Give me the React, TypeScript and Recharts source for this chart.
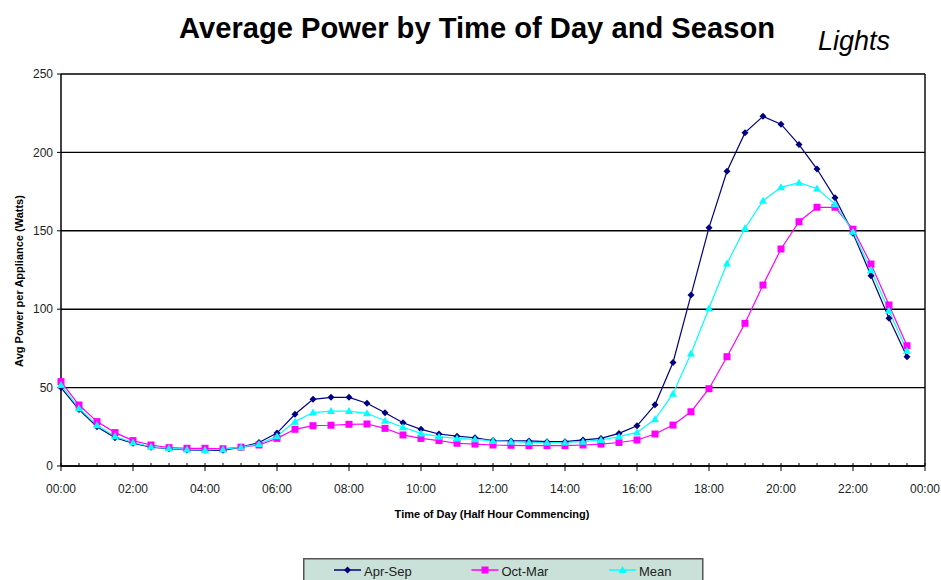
import React from 'react';
import { CartesianGrid, Line, LineChart, ReferenceLine, XAxis, YAxis } from 'recharts';

// half-hour slots, 0 = 00:00 ... 47 = 23:30
const slots = Array.from({ length: 48 }, (_, i) => i);

const aprSep = [
  50, 36, 25, 18, 14.5, 12, 11, 10.2, 10, 10, 12, 15, 21, 33, 42.5, 43.8,
  43.8, 40, 34, 27.6, 23.4, 20.4, 19, 18, 16.2, 16, 16, 15.5, 15.5, 16.6, 17.6, 20.8,
  25.6, 39, 66, 109, 152, 188, 212.6, 223, 218, 205, 189.4, 171, 148.4, 121.4, 94.2, 69.7,
];
const octMar = [
  53.8, 38.9, 28.3, 21.3, 16.2, 13.4, 11.7, 11.3, 11.3, 11, 12, 13.4, 17.6, 23.4, 25.7, 26,
  26.6, 26.8, 24, 19.8, 17.6, 16.2, 14.5, 14, 13.4, 13.2, 13, 13, 13, 13.4, 14, 15,
  16.6, 20.4, 26.1, 34.6, 49.3, 69.7, 91, 115.4, 138.4, 155.8, 165, 165, 151, 128.8, 102.7, 76.7,
];
const mean = [
  51.7, 36.8, 26, 19, 15, 12.3, 11.3, 10.6, 10.2, 10.6, 12, 14, 19, 28.3, 34.1, 35,
  35, 33.6, 28.9, 24.7, 20.8, 18.7, 17.6, 17, 16, 15.5, 15.1, 15, 15, 15.5, 16.6, 18.7,
  21.4, 29.8, 46.1, 71.8, 100.6, 129.2, 151.6, 169.2, 177.7, 180.7, 177, 167, 149.4, 125, 99, 73.5,
];

const timeLabels = [
  '00:00', '02:00', '04:00', '06:00', '08:00', '10:00', '12:00',
  '14:00', '16:00', '18:00', '20:00', '22:00', '00:00',
];
const yTicks = [0, 50, 100, 150, 200, 250];

const data = slots.map((t) => ({ t, aprSep: aprSep[t], octMar: octMar[t], mean: mean[t] }));

const series = [
  { key: 'aprSep', name: 'Apr-Sep', color: '#000080', marker: 'diamond' },
  { key: 'octMar', name: 'Oct-Mar', color: '#ff00ff', marker: 'square' },
  { key: 'mean', name: 'Mean', color: '#00ffff', marker: 'triangle' },
];

const font = '"Liberation Sans", Arial, sans-serif';

function Marker({ cx, cy, shape, color }: any) {
  if (cx == null || cy == null) return null;
  if (shape === 'diamond') {
    return <path d={`M${cx},${cy - 3.5}L${cx + 3.5},${cy}L${cx},${cy + 3.5}L${cx - 3.5},${cy}Z`} fill={color} />;
  }
  if (shape === 'square') {
    return <rect x={cx - 3.5} y={cy - 3.5} width={7} height={7} fill={color} />;
  }
  return <path d={`M${cx},${cy - 4}L${cx + 4},${cy + 3}L${cx - 4},${cy + 3}Z`} fill={color} />;
}

function TimeTick({ x, y, payload }: any) {
  const v = payload.value;
  const major = v % 4 === 0;
  return (
    <g>
      <line x1={x} x2={x} y1={y - 3} y2={major ? y + 5 : y} stroke="#000" />
      {major && (
        <text x={x} y={y + 27} textAnchor="middle" fontSize={12} fill="#222" fontFamily={font}>
          {timeLabels[v / 4]}
        </text>
      )}
    </g>
  );
}

export default function App() {
  return (
    <div style={{ position: 'absolute', left: 0, top: 0, width: 941, height: 580, background: '#fff', overflow: 'hidden' }}>
      <LineChart width={941} height={580} data={data} margin={{ top: 74, right: 16, left: 21, bottom: 84 }}>
        <CartesianGrid vertical={false} stroke="#000" strokeWidth={1.4} />
        <XAxis
          dataKey="t"
          type="number"
          domain={[0, 48]}
          ticks={[...slots, 48]}
          interval={0}
          height={30}
          tickSize={0}
          tickMargin={0}
          tickLine={false}
          axisLine={{ stroke: '#000', strokeWidth: 1.5 }}
          tick={<TimeTick />}
        />
        <YAxis
          domain={[0, 250]}
          ticks={yTicks}
          width={40}
          tickSize={4}
          tickMargin={4}
          tickLine={{ stroke: '#000' }}
          axisLine={{ stroke: '#000', strokeWidth: 1.5 }}
          tick={{ fontSize: 12, fill: '#222', fontFamily: font }}
        />
        <ReferenceLine x={48} stroke="#000" strokeWidth={1.4} />
        {series.map((s) => (
          <Line
            key={s.key}
            dataKey={s.key}
            name={s.name}
            type="linear"
            stroke={s.color}
            strokeWidth={1.2}
            isAnimationActive={false}
            dot={(p: any) => <Marker key={`${s.key}-${p.index}`} cx={p.cx} cy={p.cy} shape={s.marker} color={s.color} />}
            activeDot={false}
          />
        ))}
      </LineChart>
      <svg width={941} height={580} style={{ position: 'absolute', left: 0, top: 0, pointerEvents: 'none' }}>
        <text x={179} y={38} fontSize={29} fontWeight="bold" fontFamily={font} textLength={596} lengthAdjust="spacingAndGlyphs" fill="#000">
          Average Power by Time of Day and Season
        </text>
        <text x={818} y={50} fontSize={27} fontStyle="italic" fontFamily={font} fill="#000">
          Lights
        </text>
        <text transform="translate(23,281) rotate(-90)" textAnchor="middle" fontSize={11} fontWeight="bold" fontFamily={font} fill="#000">
          Avg Power per Appliance (Watts)
        </text>
        <text x={492} y={518} textAnchor="middle" fontSize={11} fontWeight="bold" fontFamily={font} fill="#000">
          Time of Day (Half Hour Commencing)
        </text>
        <g transform="translate(303,558)">
          <rect x={0.75} y={0.75} width={399} height={40} fill="#c9e1d8" stroke="#555" strokeWidth={1.5} />
          {series.map((s, i) => {
            const lx = 31 + i * 137.5;
            return (
              <g key={s.key}>
                <line x1={lx} x2={lx + 27} y1={12} y2={12} stroke={s.color} strokeWidth={1.5} />
                <Marker cx={lx + 13.5} cy={12} shape={s.marker} color={s.color} />
                <text x={lx + 30} y={18} fontSize={13} fontFamily={font} fill="#222">
                  {s.name}
                </text>
              </g>
            );
          })}
        </g>
      </svg>
    </div>
  );
}
